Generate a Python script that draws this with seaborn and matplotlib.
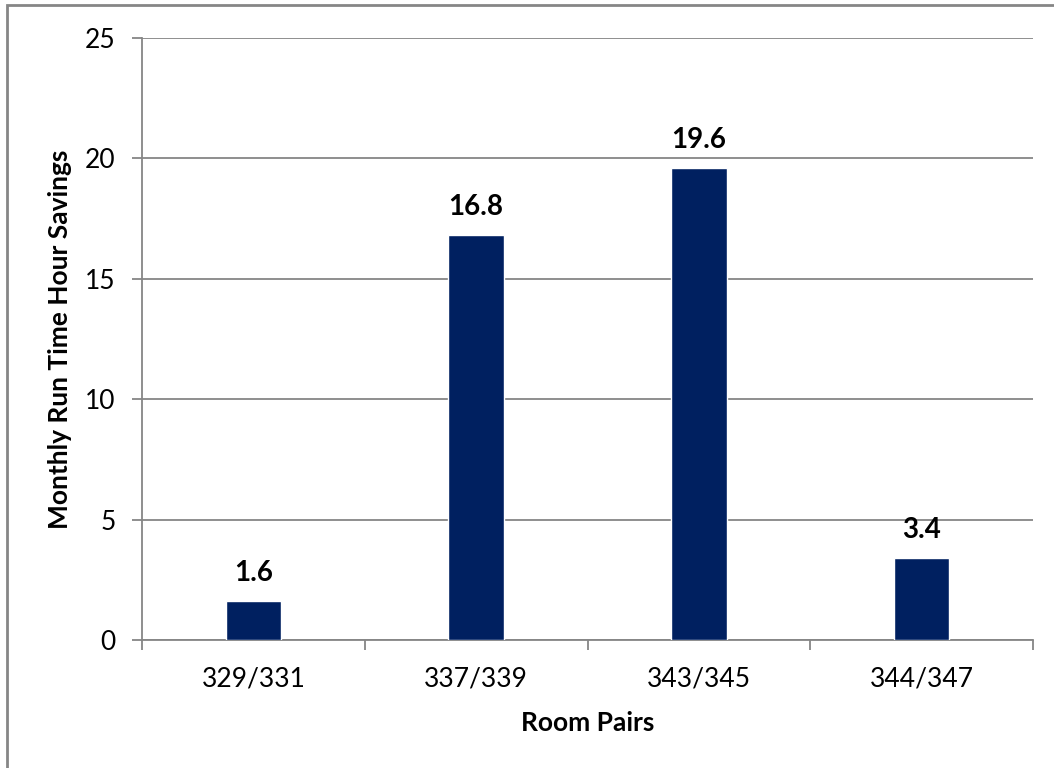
import matplotlib
matplotlib.use("Agg")
import matplotlib.pyplot as plt
import seaborn as sns
import pandas as pd
from matplotlib.patches import Rectangle
from matplotlib.ticker import FixedLocator

categories = ["329/331", "337/339", "343/345", "344/347"]
values = [1.6, 16.8, 19.6, 3.4]
yticks = [0, 5, 10, 15, 20, 25]

sns.set_theme(style="white")
plt.rcParams['font.family'] = ['Lato', 'DejaVu Sans']

df = pd.DataFrame({"room": categories, "val": values})

fig = plt.figure(figsize=(10.54, 7.68), dpi=100)
ax = fig.add_axes([142/1054, 1-640/768, (1033-142)/1054, (640-38)/768])

sns.barplot(data=df, x="room", y="val", color="#002060", width=0.25,
            saturation=1, ax=ax, zorder=3)

ax.set_ylim(0, 25)
ax.set_xlim(-0.5, len(categories) - 0.5)
ax.set_yticks(yticks)
ax.set_yticklabels([str(t) for t in yticks], fontsize=19, color="black")
ax.tick_params(axis="x", which="major", labelsize=19, colors="black", length=0, pad=19)
ax.xaxis.set_minor_locator(FixedLocator([i - 0.5 for i in range(len(categories) + 1)]))
ax.tick_params(axis="x", which="minor", bottom=True, length=7, width=1.3, color="#868686")
ax.tick_params(axis="y", length=7, width=1.3, color="#868686", pad=12, left=True)
for lab in ax.get_xticklabels():
    lab.set_color("black")

ax.yaxis.grid(True, color="#868686", linewidth=1.3, zorder=0)
ax.set_axisbelow(True)

for s in ["top", "right"]:
    ax.spines[s].set_visible(False)
for s in ["left", "bottom"]:
    ax.spines[s].set_color("#868686")
    ax.spines[s].set_linewidth(1.3)

for i, v in enumerate(values):
    ax.annotate(f"{v}", (i, v), xytext=(0, 11), textcoords="offset points",
                ha="center", va="bottom", fontsize=20, fontweight="bold",
                color="black")

ax.set_xlabel("Room Pairs", fontsize=19, fontweight="bold", color="black", labelpad=14)
ax.set_ylabel("Monthly Run Time Hour Savings", fontsize=19, fontweight="bold",
              color="black", labelpad=9)

fig.patches.append(Rectangle((7/1054, -0.05), 1.2, 1 - 5/768 + 0.05,
                             transform=fig.transFigure, fill=False,
                             edgecolor="#868686", linewidth=2))

fig.savefig("out.png", dpi=100)
